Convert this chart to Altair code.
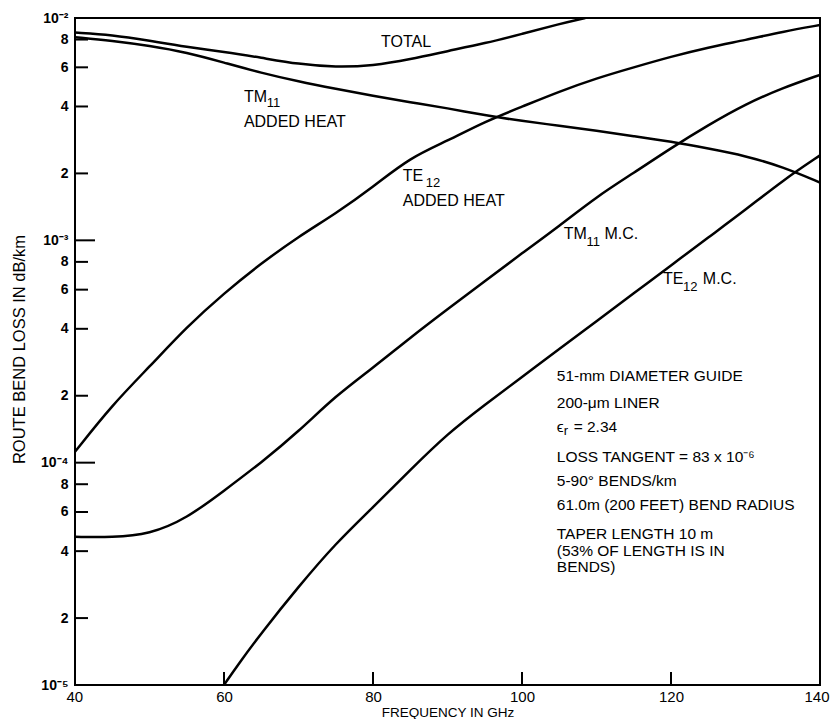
import altair as alt
import pandas as pd

# ---------------- data ----------------
freq_total = [40, 45, 50, 55, 60, 65, 70, 75, 80, 85, 90, 95, 100, 105, 108.5]
loss_total = [0.0086, 0.0084, 0.0079, 0.0074, 0.00705, 0.00663, 0.0062, 0.0060, 0.0061,
              0.00652, 0.0071, 0.00769, 0.00848, 0.0094, 0.0100]

freq_tm11_heat = [40, 45, 50, 55, 60, 65, 70, 75, 80, 85, 90, 95, 100, 105, 110, 115, 120, 125, 130, 135, 140]
loss_tm11_heat = [0.0082, 0.0079, 0.0075, 0.0070, 0.0063, 0.00566, 0.00518, 0.0048, 0.00446, 0.00418,
                  0.00393, 0.00365, 0.00344, 0.00328, 0.00311, 0.00294, 0.00278, 0.00259, 0.0024,
                  0.00214, 0.00182]

freq_te12_heat = [40, 45, 50, 55, 60, 65, 70, 75, 80, 85, 90, 95, 100, 105, 110, 115, 120, 125, 130, 135, 140]
loss_te12_heat = [1.12e-4, 1.82e-4, 2.7e-4, 4.08e-4, 5.78e-4, 7.88e-4, 1.04e-3, 1.32e-3, 1.74e-3,
                  2.36e-3, 2.8e-3, 3.42e-3, 3.99e-3, 4.67e-3, 5.36e-3, 6.0e-3, 6.7e-3, 7.38e-3,
                  7.96e-3, 8.68e-3, 9.3e-3]

freq_tm11_mc = [40, 45, 50, 55, 60, 65, 70, 75, 80, 85, 90, 95, 100, 105, 110, 115, 120, 125, 130, 135, 140]
loss_tm11_mc = [4.64e-5, 4.61e-5, 4.76e-5, 5.61e-5, 7.48e-5, 1.0e-4, 1.38e-4, 2.0e-4, 2.67e-4,
                3.65e-4, 4.9e-4, 6.55e-4, 8.75e-4, 1.16e-3, 1.57e-3, 2.01e-3, 2.6e-3, 3.3e-3,
                4.1e-3, 4.85e-3, 5.55e-3]

freq_te12_mc = [60, 62, 65, 70, 75, 80, 85, 90, 95, 100, 105, 110, 115, 120, 125, 130, 135, 140]
loss_te12_mc = [1.0e-5, 1.25e-5, 1.71e-5, 2.77e-5, 4.34e-5, 6.3e-5, 9.27e-5, 1.35e-4, 1.82e-4,
                2.43e-4, 3.24e-4, 4.33e-4, 5.78e-4, 7.71e-4, 1.03e-3, 1.37e-3, 1.86e-3, 2.41e-3]

# axis tick values
x_label_values = [40, 60, 80, 100, 120, 140]
x_inner_ticks = [60, 80, 100, 120]
y_label_values = [1e-5, 2e-5, 4e-5, 6e-5, 8e-5, 1e-4, 2e-4, 4e-4, 6e-4, 8e-4,
                  1e-3, 2e-3, 4e-3, 6e-3, 8e-3, 1e-2]
y_minor_ticks = [2e-5, 4e-5, 6e-5, 8e-5, 2e-4, 4e-4, 6e-4, 8e-4, 2e-3, 4e-3, 6e-3, 8e-3]
y_major_ticks = [1e-4, 1e-3]

# curve labels (text, frequency, loss)
main_text = ["TOTAL", "TM", "ADDED  HEAT", "TE", "ADDED  HEAT", "TM", "M.C.", "TE", "M.C."]
main_freq = [81.07, 62.67, 62.67, 84.0, 84.0, 105.6, 111.07, 118.93, 124.27]
main_loss = [7.79e-3, 4.39e-3, 3.40e-3, 1.947e-3, 1.503e-3, 1.068e-3, 1.068e-3, 6.70e-4, 6.70e-4]

sub_text = ["11", "12", "11", "12", "r"]
sub_freq = [65.73, 87.07, 108.67, 121.6, 105.6]
sub_loss = [4.15e-3, 1.81e-3, 9.83e-4, 6.17e-4, 1.388e-4]

note_text = ["51-mm  DIAMETER  GUIDE", "200-\u03bcm  LINER", "\u03f5", "=  2.34",
             "LOSS TANGENT  =  83  x  10\u207b\u2076", "5-90\u00b0  BENDS/km",
             "61.0m  (200 FEET)  BEND RADIUS", "TAPER  LENGTH  10 m",
             "(53%  OF  LENGTH  IS  IN", "BENDS)"]
note_freq = [104.67, 104.67, 104.67, 106.93, 104.67, 104.67, 104.67, 104.67, 104.67, 104.67]
note_loss = [2.454e-4, 1.855e-4, 1.446e-4, 1.446e-4, 1.06e-4, 8.27e-5, 6.45e-5, 4.78e-5, 4.01e-5, 3.39e-5]

# ---------------- build tables ----------------
def series(name, f, v):
    return pd.DataFrame({"freq": f, "loss": v, "curve": name})

lines_df = pd.concat([
    series("TOTAL", freq_total, loss_total),
    series("TM11 added heat", freq_tm11_heat, loss_tm11_heat),
    series("TE12 added heat", freq_te12_heat, loss_te12_heat),
    series("TM11 M.C.", freq_tm11_mc, loss_tm11_mc),
    series("TE12 M.C.", freq_te12_mc, loss_te12_mc),
], ignore_index=True)

main_df = pd.DataFrame({"text": main_text, "freq": main_freq, "loss": main_loss})
sub_df = pd.DataFrame({"text": sub_text, "freq": sub_freq, "loss": sub_loss})
note_df = pd.DataFrame({"text": note_text, "freq": note_freq, "loss": note_loss})
ymin_df = pd.DataFrame({"loss": y_minor_ticks})
ymaj_df = pd.DataFrame({"loss": y_major_ticks})
xt_df = pd.DataFrame({"freq": x_inner_ticks})

FONT = "Liberation Sans"
W, H = 745, 667

x_scale = alt.Scale(domain=[40, 140], nice=False, zero=False)
y_scale = alt.Scale(type="log", domain=[1e-5, 1e-2], nice=False)

y_label_expr = (
    "abs(log(datum.value)/LN10 - round(log(datum.value)/LN10)) < 0.01 ? "
    "'10\u207b' + ['\u2070','\u00b9','\u00b2','\u00b3','\u2074','\u2075'][-round(log(datum.value)/LN10)] : "
    "'' + round(datum.value / pow(10, floor(log(datum.value)/LN10 + 0.001)))"
)

x_axis = alt.Axis(values=x_label_values, format="d", labelFontSize=15, labelPadding=4,
                  labelFlush=True, labelFlushOffset=9, labelOverlap=False, ticks=False,
                  tickSize=0, domain=False, grid=False, title="FREQUENCY  IN  GHz",
                  titleFontSize=13.5, titleFontWeight="normal", titleY=27,
                  titleBaseline="middle",
                  labelFont=FONT, titleFont=FONT, labelColor="black", titleColor="black")
y_axis = alt.Axis(values=y_label_values, labelExpr=y_label_expr, labelFontSize=14,
                  labelFontWeight="bold",
                  labelPadding=7, labelFlush=False, labelOverlap=False, ticks=False,
                  tickSize=0, domain=False, grid=False,
                  title="ROUTE  BEND  LOSS  IN  dB/km", titleFontSize=16.5,
                  titleFontWeight="normal", titleAngle=270, titleX=-56, titleY=331,
                  titleAlign="center", titleBaseline="middle",
                  labelFont=FONT, titleFont=FONT, labelColor="black", titleColor="black")

curves = alt.Chart(lines_df).mark_line(
    color="black", strokeWidth=2.5, interpolate="basis", clip=True
).encode(
    x=alt.X("freq:Q", scale=x_scale, axis=x_axis),
    y=alt.Y("loss:Q", scale=y_scale, axis=y_axis),
    detail="curve:N",
)

ytick_minor = alt.Chart(ymin_df).mark_rule(color="black", strokeWidth=2).encode(
    y=alt.Y("loss:Q", scale=y_scale), x=alt.value(0), x2=alt.value(13))
ytick_major = alt.Chart(ymaj_df).mark_rule(color="black", strokeWidth=2).encode(
    y=alt.Y("loss:Q", scale=y_scale), x=alt.value(0), x2=alt.value(20))
xtick = alt.Chart(xt_df).mark_rule(color="black", strokeWidth=2).encode(
    x=alt.X("freq:Q", scale=x_scale), y=alt.value(H), y2=alt.value(H - 13))

main_lbl = alt.Chart(main_df).mark_text(
    align="left", baseline="middle", font=FONT, fontSize=16, color="black"
).encode(x=alt.X("freq:Q", scale=x_scale), y=alt.Y("loss:Q", scale=y_scale), text="text:N")
sub_lbl = alt.Chart(sub_df).mark_text(
    align="left", baseline="middle", font=FONT, fontSize=13, color="black"
).encode(x=alt.X("freq:Q", scale=x_scale), y=alt.Y("loss:Q", scale=y_scale), text="text:N")
note_lbl = alt.Chart(note_df).mark_text(
    align="left", baseline="middle", font=FONT, fontSize=15.5, color="black"
).encode(x=alt.X("freq:Q", scale=x_scale), y=alt.Y("loss:Q", scale=y_scale), text="text:N")

chart = alt.layer(
    curves, ytick_minor, ytick_major, xtick, main_lbl, sub_lbl, note_lbl
).properties(
    width=W, height=H,
    autosize=alt.AutoSizeParams(type="none"),
    padding={"left": 67, "top": 10, "right": 12, "bottom": 34},
    background="white",
).configure_view(stroke="black", strokeWidth=2)

chart.save("out.html", embed_options={"renderer": "svg", "actions": False})
